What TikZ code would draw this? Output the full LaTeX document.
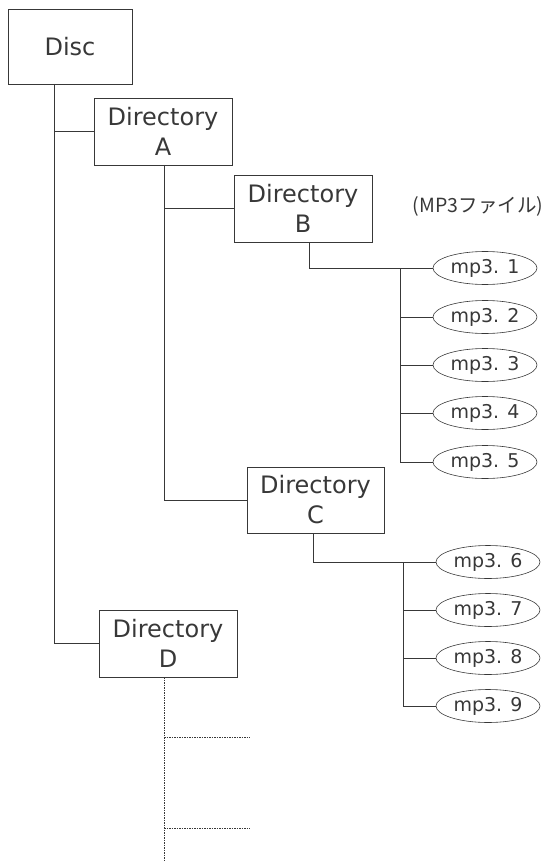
\documentclass[tikz,border=0pt]{standalone}
\usepackage{fontspec}
\setmainfont{DejaVu Sans}
\newfontfamily\jpfont{Noto Sans CJK JP}
\usetikzlibrary{shapes.geometric,calc}
\definecolor{ink}{gray}{0.22}
\begin{document}
\begin{tikzpicture}[x=1pt,y=-1pt,
  dirbox/.style={draw=ink,line width=0.7pt,text=ink,inner sep=0pt,align=center,
    minimum width=138pt,minimum height=67pt,font=\fontsize{24}{30}\selectfont},
  mpfile/.style={ellipse,draw=ink,line width=0.6pt,text=ink,inner sep=0pt,
    minimum width=104pt,minimum height=33pt,font=\fontsize{19}{22}\selectfont},
  link/.style={draw=ink,line width=0.7pt},
  dotlink/.style={draw=ink,line width=0.6pt,dash pattern=on 1.5pt off 1pt}]
\useasboundingbox (0,0) rectangle (549,861);
% boxes
\node[dirbox,minimum width=124pt,minimum height=75pt] (disc) at (70,46.5) {Disc};
\node[dirbox] (dirA) at (163,131.5) {Directory\\A};
\node[dirbox] (dirB) at (303,208.5) {Directory\\B};
\node[dirbox,minimum width=137pt,minimum height=66pt] (dirC) at (315.5,500) {Directory\\C};
\node[dirbox] (dirD) at (168,643.5) {Directory\\D};
\node[text=ink,font=\jpfont\fontsize{19.5}{22}\selectfont,inner sep=0pt] (note) at (478,206) {(MP3ファイル)};
% files
\node[mpfile] (m1) at (485,268) {mp3. 1};
\node[mpfile] (m2) at (485,317) {mp3. 2};
\node[mpfile] (m3) at (485,365) {mp3. 3};
\node[mpfile] (m4) at (485,413) {mp3. 4};
\node[mpfile] (m5) at (485,462) {mp3. 5};
\node[mpfile] (m6) at (488,562) {mp3. 6};
\node[mpfile] (m7) at (488,610) {mp3. 7};
\node[mpfile] (m8) at (488,658) {mp3. 8};
\node[mpfile] (m9) at (488,706) {mp3. 9};
% trunk coordinates
\coordinate (t0) at (54,84);
\coordinate (tA) at (164,165);
\coordinate (tB) at (309,242);
\coordinate (jB) at (400,268);
\coordinate (tC) at (313,533);
\coordinate (jC) at (403,562);
\coordinate (tD) at (164,677);
\coordinate (endD) at (164,861);
\coordinate (e1) at (250,737);
\coordinate (e2) at (250,828);
% disc
\draw[link] (t0) -- (t0 |- dirD.west) -- (dirD.west);
\draw[link] (t0 |- dirA.west) -- (dirA.west);
% dir A
\draw[link] (tA) -- (tA |- dirC.west) -- (dirC.west);
\draw[link] (tA |- dirB.west) -- (dirB.west);
% dir B
\draw[link] (tB) -- (tB |- m1.west) -- (m1.west);
\draw[link] (jB) -- (jB |- m5.west) -- (m5.west);
\foreach \m in {m2,m3,m4}{\draw[link] (jB |- \m.west) -- (\m.west);}
% dir C
\draw[link] (tC) -- (tC |- m6.west) -- (m6.west);
\draw[link] (jC) -- (jC |- m9.west) -- (m9.west);
\foreach \m in {m7,m8}{\draw[link] (jC |- \m.west) -- (\m.west);}
% dir D
\draw[dotlink] (tD) -- (endD);
\draw[dotlink] (tD |- e1) -- (e1);
\draw[dotlink] (tD |- e2) -- (e2);
\end{tikzpicture}
\end{document}
